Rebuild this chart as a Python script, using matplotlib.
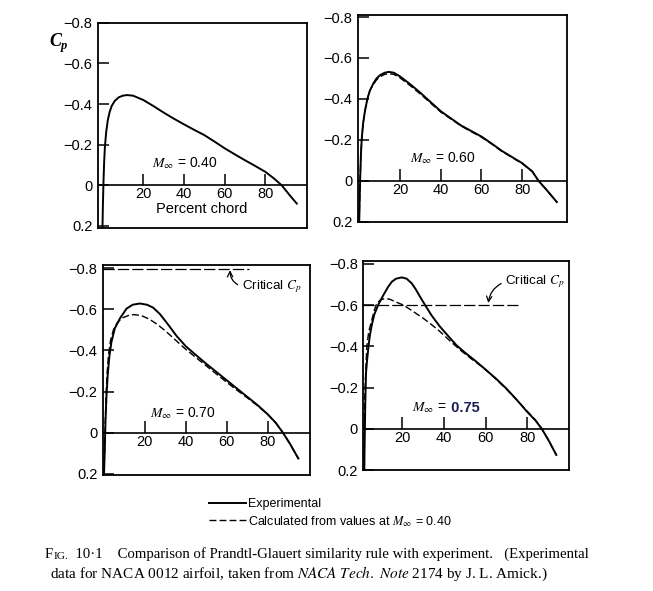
import matplotlib
matplotlib.use("Agg")
import matplotlib.pyplot as plt
from matplotlib import font_manager

# chord position (percent) and pressure coefficient
# M = 0.40, experimental only
x40 = [0, 0.2, 0.5, 0.8, 1.2, 1.8, 2.6, 3.5, 4.5, 6, 8, 10, 12, 15, 20, 25, 30, 35,
       40, 45, 50, 55, 60, 65, 70, 75, 80, 84, 88, 92, 95.4]
cp40 = [0.21, 0.1, -0.02, -0.11, -0.19, -0.26, -0.32, -0.36, -0.39, -0.415, -0.433,
        -0.441, -0.444, -0.441, -0.42, -0.39, -0.358, -0.328, -0.30, -0.273, -0.247,
        -0.215, -0.182, -0.152, -0.123, -0.095, -0.066, -0.035, 0.0, 0.05, 0.09]

# M = 0.60
x60 = [0, 0.2, 0.5, 0.8, 1.2, 1.9, 2.8, 4.0, 5.2, 6.9, 8.5, 10.2, 12.5, 14.5, 17, 20,
       25, 30, 35, 40, 45, 50, 55, 60, 65, 70, 75, 80, 85, 88, 92, 97]
cp60_exp = [0.2, 0.1, -0.02, -0.12, -0.2, -0.28, -0.34, -0.40, -0.44, -0.475, -0.50,
            -0.516, -0.528, -0.532, -0.528, -0.51, -0.472, -0.43, -0.385, -0.34,
            -0.305, -0.27, -0.243, -0.216, -0.182, -0.146, -0.116, -0.086, -0.045,
            0.0, 0.045, 0.104]
cp60_calc = [0.2, 0.1, -0.02, -0.12, -0.2, -0.28, -0.34, -0.40, -0.44, -0.47, -0.493,
             -0.508, -0.52, -0.523, -0.52, -0.503, -0.465, -0.424, -0.38, -0.336,
             -0.302, -0.268, -0.24, -0.213, -0.18, -0.144, -0.114, -0.084, -0.045,
             0.0, 0.045, 0.104]

# M = 0.70
x70_exp = [0, 0.3, 0.7, 1.2, 1.8, 2.6, 3.6, 5.3, 7.8, 11, 14, 17.5, 21, 24, 27.3, 31,
           35.5, 40, 45, 50, 55, 60, 65, 70, 75, 80, 84, 87.5, 91, 95]
cp70_exp = [0.2, 0.1, -0.05, -0.18, -0.28, -0.37, -0.44, -0.508, -0.556, -0.603,
            -0.622, -0.628, -0.622, -0.608, -0.577, -0.53, -0.47, -0.42, -0.377,
            -0.335, -0.295, -0.255, -0.215, -0.175, -0.135, -0.09, -0.048, 0.0,
            0.055, 0.125]
x70_calc = [0, 0.25, 0.6, 1.0, 1.5, 2.2, 3.2, 4.6, 6.5, 9, 12, 14.5, 18, 22, 26, 30,
            35, 40, 45, 50, 55, 60, 65, 70, 75, 80, 84, 87.5, 91, 95]
cp70_calc = [0.2, 0.1, -0.05, -0.18, -0.29, -0.38, -0.45, -0.5, -0.535, -0.558,
             -0.57, -0.574, -0.57, -0.553, -0.527, -0.495, -0.45, -0.405, -0.365,
             -0.325, -0.285, -0.245, -0.207, -0.17, -0.132, -0.09, -0.048, 0.0,
             0.055, 0.125]

# M = 0.75
x75_exp = [1.7, 1.8, 1.95, 2.15, 2.5, 3.0, 3.7, 4.4, 5.3, 6.5, 8.5, 10.9, 13, 14.9,
           17, 19.7, 22, 24.5, 26.5, 28.5, 30.9, 34, 38, 42, 46, 50, 55, 60, 65, 70,
           75, 80, 84, 87, 90.5, 94]
cp75_exp = [0.2, 0.1, 0.0, -0.12, -0.27, -0.33, -0.4, -0.455, -0.504, -0.555, -0.604,
            -0.649, -0.686, -0.713, -0.728, -0.734, -0.728, -0.705, -0.675, -0.64,
            -0.6, -0.55, -0.496, -0.45, -0.405, -0.37, -0.33, -0.287, -0.243, -0.195,
            -0.14, -0.082, -0.04, 0.0, 0.06, 0.127]
x75_calc = [1.5, 1.6, 1.75, 2.0, 2.4, 2.9, 3.8, 5.3, 6.5, 7.7, 9.5, 11.7, 14, 16.5,
            20.5, 25, 30, 34, 38, 43, 48, 53, 59, 64, 70, 75, 80, 84, 87, 90.5, 94]
cp75_calc = [0.2, 0.08, -0.05, -0.18, -0.29, -0.40, -0.47, -0.528, -0.575, -0.609,
             -0.625, -0.632, -0.628, -0.616, -0.60, -0.57, -0.536, -0.505, -0.472,
             -0.425, -0.38, -0.34, -0.295, -0.25, -0.192, -0.14, -0.085, -0.042, 0.0,
             0.06, 0.127]

mach_labels = ["0.40", "0.60", "0.70", "0.75"]
critical_cp = [None, None, -0.795, -0.6]
critical_end = [None, None, 71, 75.5]

yticks = [-0.8, -0.6, -0.4, -0.2, 0, 0.2]
ytick_labels = ["\u22120.8", "\u22120.6", "\u22120.4", "\u22120.2", "0", "0.2"]
xticks = [20, 40, 60, 80]
xtick_labels = ["20", "40", "60", "80"]

plt.rcParams["font.family"] = "Liberation Sans"
plt.rcParams["mathtext.fontset"] = "stix"

W, H = 653, 591
fig = plt.figure(figsize=(W / 100, H / 100), dpi=100)


def rect(l, r, t, b):
    return [l / W, 1 - b / H, (r - l) / W, (b - t) / H]


rects = [rect(98, 307, 22.7, 228), rect(358, 567, 15, 221.7),
         rect(103, 310, 265, 475), rect(363.3, 569, 260.7, 470)]
xlims = [(-2.2, 100.4), (-0.6, 102), (-0.5, 100.7), (1.2, 100.1)]
ylims = [(0.21, -0.8), (0.2, -0.81), (0.205, -0.815), (0.2, -0.815)]
mach_pos = [(24.1, -0.107), (24.9, -0.109), (22.4, -0.094), (24.5, -0.101)]

exp_data = [(x40, cp40), (x60, cp60_exp), (x70_exp, cp70_exp), (x75_exp, cp75_exp)]
calc_data = [None, (x60, cp60_calc), (x70_calc, cp70_calc), (x75_calc, cp75_calc)]

dash = (0, (5, 2.2))
handles = None
axes = []
for i in range(4):
    ax = fig.add_axes(rects[i])
    axes.append(ax)
    ax.set_xlim(*xlims[i])
    ax.set_ylim(*ylims[i])
    for s in ax.spines.values():
        s.set_linewidth(1.3)

    ax.set_yticks(yticks)
    ax.set_yticklabels(ytick_labels)
    ax.tick_params(axis="y", direction="in", length=8, width=1.1, labelsize=10.5, pad=4)
    ax.set_xticks([])

    ax.axhline(0, color="black", lw=1.2)
    ax.vlines(xticks, 0, -0.058, color="black", lw=1.1)
    for xt, lab in zip(xticks, xtick_labels):
        ax.text(xt, 0.045, lab, ha="center", va="center", fontsize=10.5)

    le, = ax.plot(*exp_data[i], color="black", lw=1.4)
    if calc_data[i] is not None:
        lc, = ax.plot(*calc_data[i], color="black", lw=1.0, linestyle=dash)
        if handles is None:
            handles = [le, lc]

    mx, my = mach_pos[i]
    if i < 3:
        ax.text(mx, my, r"$M_\infty$ = " + mach_labels[i], va="center", fontsize=10)
    else:
        t = ax.text(mx, my, r"$M_\infty$ = ", va="center", fontsize=10)
        ax.annotate(" " + mach_labels[i], xy=(1, 0.5), xycoords=t, va="center",
                    ha="left", fontsize=10.5, fontweight="bold", color="#1c1c54")

    if critical_cp[i] is not None:
        ax.plot([xlims[i][0], critical_end[i]], [critical_cp[i]] * 2, color="black",
                lw=0.9, linestyle=(0, (9, 2.5)))

axes[0].text(48.7, 0.115, "Percent chord", ha="center", va="center", fontsize=10.5)

axes[2].annotate("Critical $C_p$", xy=(61.6, -0.79), xytext=(67.3, -0.71),
                 va="center", ha="left", fontsize=9.6,
                 arrowprops=dict(arrowstyle="->", lw=0.9, relpos=(0, 0.5),
                                 shrinkA=1, shrinkB=0,
                                 connectionstyle="arc3,rad=-0.35"))
axes[3].annotate("Critical $C_p$", xy=(61.3, -0.61), xytext=(69.4, -0.713),
                 va="center", ha="left", fontsize=9.6,
                 arrowprops=dict(arrowstyle="->", lw=0.9, relpos=(0, 0.5),
                                 shrinkA=1, shrinkB=0,
                                 connectionstyle="arc3,rad=0.3"))

# Cp axis label
tc = fig.text(49 / W, 1 - 41 / H, "C", family="Liberation Serif", style="italic",
              weight="bold", fontsize=13, va="center")
axes[0].annotate("p", xy=(1, 0.22), xycoords=tc, va="center", ha="left",
                 family="Liberation Serif", style="italic", weight="bold", fontsize=9,
                 annotation_clip=False)

# legend
try:
    font_manager.findfont("Liberation Sans Narrow", fallback_to_default=False)
    leg_font = dict(family="Liberation Sans Narrow", size=10.5)
except ValueError:
    leg_font = dict(family="Liberation Sans", size=9)
fig.legend(handles, ["Experimental", r"Calculated from values at $M_\infty$ = 0.40"],
           loc="upper left", bbox_to_anchor=(209 / W, 1 - 498 / H), frameon=False,
           prop=leg_font, handlelength=2.95, handletextpad=0.15, labelspacing=0.3,
           borderpad=0, borderaxespad=0)

# caption
serif = dict(family="Liberation Serif", fontsize=10.6)
t0 = fig.text(45 / W, 1 - 558 / H, "F", va="baseline", **serif)
t1 = axes[0].annotate("IG.", xy=(1, 0), xycoords=t0, va="bottom", ha="left",
                      family="Liberation Serif", fontsize=8.1, annotation_clip=False)
axes[0].annotate("  10\u00b71    Comparison of Prandtl-Glauert similarity rule with "
                 "experiment.   (Experimental", xy=(1, 0), xycoords=t1, va="bottom",
                 ha="left", annotation_clip=False, **serif)
fig.text(50 / W, 1 - 578 / H,
         r"data for NACA 0012 airfoil, taken from $\it{NACA\ Tech.\ Note}$ "
         "2174 by J. L. Amick.)", va="baseline", family="Liberation Serif",
         fontsize=11.0)

fig.savefig("out.png", dpi=100, facecolor="white")
